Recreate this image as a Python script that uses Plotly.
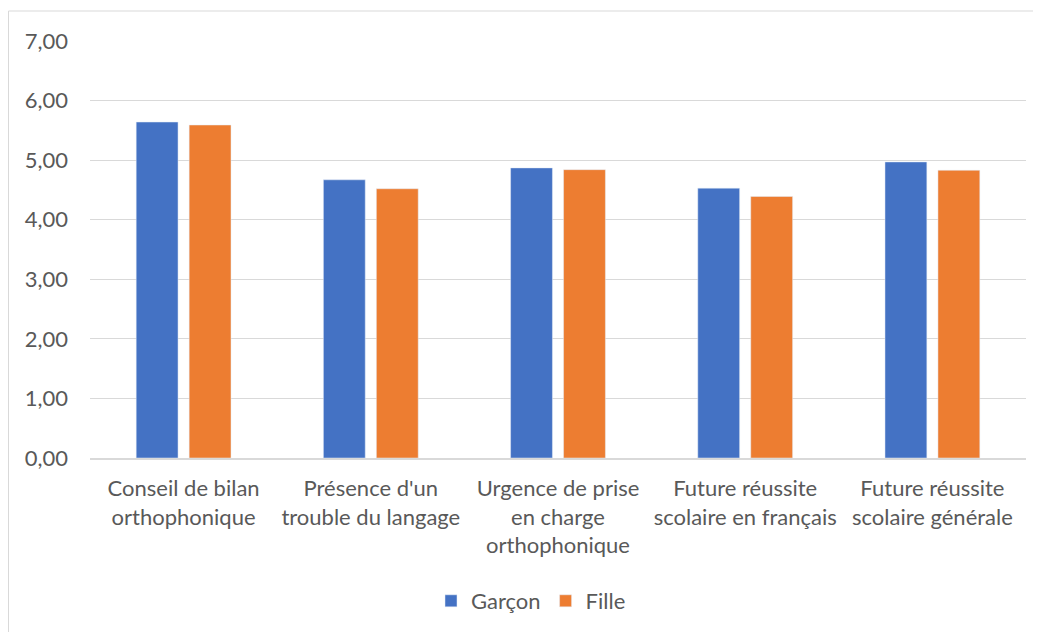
import plotly.graph_objects as go

categories = [
    "Conseil de bilan<br>orthophonique",
    "Présence d'un<br>trouble du langage",
    "Urgence de prise<br>en charge<br>orthophonique",
    "Future réussite<br>scolaire en français",
    "Future réussite<br>scolaire générale",
]
garcon = [5.64, 4.67, 4.87, 4.53, 4.97]
fille = [5.59, 4.52, 4.84, 4.39, 4.83]
tick_vals = [0, 1, 2, 3, 4, 5, 6, 7]
tick_text = ["0,00", "1,00", "2,00", "3,00", "4,00", "5,00", "6,00", "7,00"]

W, H = 1041, 632
OFF = 8  # page body margin offset
L, R, T, B = 90 - OFF, 15 + OFF, 41 - OFF, 174 + OFF
pw, ph = W - L - R, H - T - B

font_family = "Lato, 'Open Sans', sans-serif"
gray = "#595959"
fs = 22

fig = go.Figure()
fig.add_trace(go.Bar(name="Garçon", x=categories, y=garcon, marker_color="#4472C4"))
fig.add_trace(go.Bar(name="Fille", x=categories, y=fille, marker_color="#ED7D31"))

# border (figure pixel coords -> paper coords)
bx0, bx1 = 0.5, W + 20
by0, by1 = 3, H + 20
fig.update_layout(
    width=W, height=H,
    margin=dict(l=L, r=R, t=T, b=B, autoexpand=False),
    paper_bgcolor="white", plot_bgcolor="white",
    barmode="group", bargap=0.434, bargroupgap=0.21,
    font=dict(family=font_family, color=gray, size=fs),
    showlegend=True,
    legend=dict(orientation="h", x=0.5 - 27 / pw, xanchor="center", y=(T + ph - (601 - OFF)) / ph, yanchor="middle",
                font=dict(size=fs, color=gray), itemwidth=30, traceorder="normal"),
    xaxis=dict(showline=True, linecolor="#D9D9D9", linewidth=1.5, ticks="",
               ticklabelstandoff=10,
               tickfont=dict(size=fs, color=gray), fixedrange=True),
    yaxis=dict(range=[0, 7], tickvals=tick_vals, ticktext=tick_text,
               showgrid=True, gridcolor="#D9D9D9", gridwidth=1, zeroline=False,
               showline=False, ticks="", ticklabelstandoff=21,
               tickfont=dict(size=fs, color=gray)),
    shapes=[dict(type="rect", xref="paper", yref="paper",
                 x0=(bx0 - L) / pw, x1=(bx1 - L) / pw,
                 y0=(T + ph - by1) / ph, y1=(T + ph - by0) / ph,
                 line=dict(color="#D9D9D9", width=1), fillcolor="rgba(0,0,0,0)", layer="below")],
)

fig.write_html("out.html")
